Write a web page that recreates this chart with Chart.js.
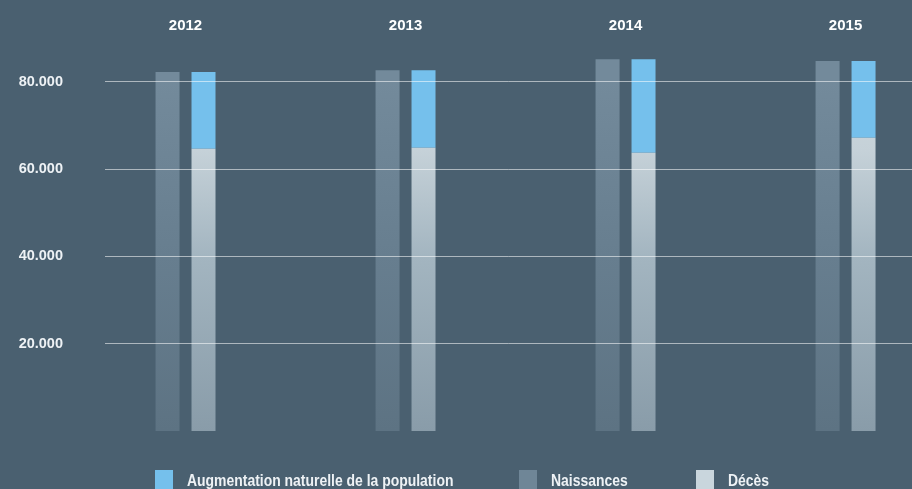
<!DOCTYPE html>
<html lang="fr">
<head>
<meta charset="utf-8">
<title>Naissances et décès 2012–2015</title>
<script src="https://cdn.jsdelivr.net/npm/chart.js@4/dist/chart.umd.min.js"></script>
<style>
  html, body { margin: 0; padding: 0; background: #4a6070; overflow: hidden; }
  .wrap { position: relative; width: 912px; height: 489px; }
  #legend { position: absolute; left: 0; top: 470px; width: 912px; height: 19px;
    font: bold 17px "Liberation Sans", Arial, sans-serif; color: #eef2f5; }
  .legend-item { position: absolute; top: 0; display: flex; white-space: nowrap; line-height: 21px; }
  .legend-box { width: 18px; height: 20px; margin-right: 14px; flex: none; }
  /* condensed look for the legend captions */
  .legend-text { display: inline-block; transform: scaleX(0.82); transform-origin: 0 50%; }
</style>
</head>
<body>
<div class="wrap">
  <canvas id="popChart" width="912" height="489"></canvas>
  <div id="legend"></div>
</div>
<script>
const years = ['2012', '2013', '2014', '2015'];
const naissances = [82300, 82700, 85200, 84800];
const deces = [64700, 64900, 63800, 67200];
const augmentation = [17600, 17800, 21400, 17600];
const yTicks = [20000, 40000, 60000, 80000];

// left edge of each legend entry
const legendSlots = [155, 519, 696];

const numFont = { family: '"Liberation Sans", Arial, sans-serif', weight: 'bold' };

function thousands(v) {
  return String(v).replace(/\B(?=(\d{3})+(?!\d))/g, '.');
}

function gradient(stops) {
  return function (context) {
    const { chart } = context;
    if (!chart.chartArea) return stops[stops.length - 1][1];
    const y = chart.scales.y;
    const g = chart.ctx.createLinearGradient(0, y.getPixelForValue(0), 0, y.getPixelForValue(80000));
    stops.forEach(([at, c]) => g.addColorStop(at, c));
    return g;
  };
}

const points = values => values.map((v, i) => ({ x: i, y: v }));

const datasets = [
  {
    label: 'Naissances',
    data: points(naissances),
    stack: 'naissances',
    backgroundColor: gradient([[0, '#5d7383'], [0.5, '#677e8f'], [1, '#738a9b']]),
    legendColor: '#6f8697'
  },
  {
    label: 'Décès',
    data: points(deces),
    stack: 'solde',
    backgroundColor: gradient([[0, '#899ca9'], [0.5, '#a3b5c0'], [0.8, '#c5d1d8'], [1, '#cdd8de']]),
    legendColor: '#c9d6dd'
  },
  {
    label: 'Augmentation naturelle de la population',
    data: points(augmentation),
    stack: 'solde',
    backgroundColor: '#75c0ec',
    legendColor: '#75c0ec'
  }
];

const chart = new Chart(document.getElementById('popChart'), {
  type: 'bar',
  data: { datasets },
  options: {
    responsive: false,
    animation: false,
    categoryPercentage: 0.327,
    barPercentage: 0.667,
    layout: { padding: { top: 0, right: 0, bottom: 58, left: 0 } },
    plugins: { legend: { display: false }, tooltip: { enabled: false } },
    scales: {
      x: {
        type: 'linear',
        position: 'top',
        offset: false,
        min: -0.366,
        max: 3.302,
        afterBuildTicks: s => { s.ticks = years.map((_, i) => ({ value: i })); },
        afterFit: s => { s.height = 37; s.paddingLeft = 0; s.paddingRight = 0; },
        grid: { display: false },
        border: { display: false },
        ticks: {
          padding: -6,
          maxRotation: 0,
          color: '#ffffff',
          font: { ...numFont, size: 15 },
          callback: v => years[v]
        }
      },
      y: {
        stacked: true,
        min: 0,
        max: 90300,
        afterBuildTicks: s => { s.ticks = yTicks.map(v => ({ value: v })); },
        afterFit: s => { s.width = 105; s.paddingTop = 0; s.paddingBottom = 0; },
        border: { display: false },
        grid: { color: 'rgba(255,255,255,0.55)', lineWidth: 1, drawTicks: false, z: 1 },
        ticks: {
          padding: 42,
          color: '#eef2f5',
          font: { ...numFont, size: 14.5 },
          callback: v => thousands(v)
        }
      }
    }
  }
});

// legend order: augmentation, naissances, décès
const legend = document.getElementById('legend');
[2, 0, 1].forEach((di, slot) => {
  const ds = chart.data.datasets[di];
  const item = document.createElement('div');
  item.className = 'legend-item';
  item.style.left = legendSlots[slot] + 'px';
  const box = document.createElement('span');
  box.className = 'legend-box';
  box.style.background = ds.legendColor;
  const text = document.createElement('span');
  text.className = 'legend-text';
  text.textContent = ds.label;
  item.append(box, text);
  legend.append(item);
});
</script>
</body>
</html>
